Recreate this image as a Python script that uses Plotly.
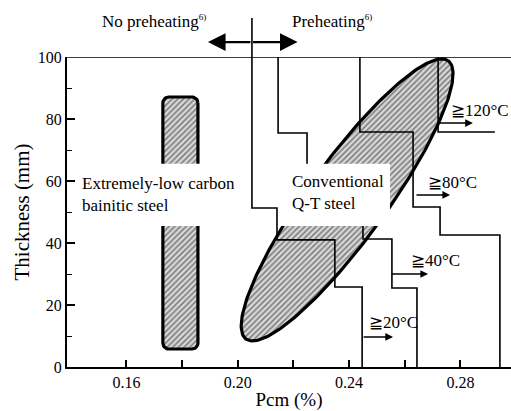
import numpy as np
import plotly.graph_objects as go

# ---- data (Pcm %, thickness mm) ----
pcm_20 = [0.2051, 0.2051, 0.2141, 0.2141, 0.2349, 0.2349, 0.2447, 0.2447]
thk_20 = [100, 51.3, 51.3, 41.0, 41.0, 25.8, 25.8, 0]
pcm_40 = [0.2145, 0.2145, 0.2249, 0.2249, 0.2450, 0.2450, 0.2554, 0.2554, 0.2644, 0.2644]
thk_40 = [100, 75.5, 75.5, 55.0, 55.0, 41.3, 41.3, 25.5, 25.5, 0]
pcm_80 = [0.2439, 0.2439, 0.2630, 0.2630, 0.2727, 0.2727, 0.2942, 0.2942]
thk_80 = [100, 75.8, 75.8, 51.6, 51.6, 42.6, 42.6, 0]
pcm_120 = [0.2720, 0.2720, 0.2924]
thk_120 = [100, 75.8, 75.8]

# preheat arrows: (start pcm, end pcm, thickness)
arrow_start = [0.2447, 0.2547, 0.2637, 0.2720]
arrow_end = [0.2558, 0.2684, 0.2763, 0.2845]
arrow_thk = [9.7, 30.0, 55.5, 78.7]
temp_labels = ["≧20°C", "≧40°C", "≧80°C", "≧120°C"]
temp_label_pcm = [0.2466, 0.2617, 0.2678, 0.2760]
temp_label_thk = [14.5, 34.5, 59.4, 82.9]

# bainitic steel range (rounded bar)
bain_pcm = [0.1731, 0.1857]
bain_thk = [5.8, 87.1]

# Q-T steel ellipse: centre, semi-axes (px-equivalent), tilt
qt_center = [0.2393, 53.9]
qt_semi = [172, 39]
qt_tilt_deg = 54

# label gaps (white bands)
gap_bain_pcm = [0.1720, 0.1868]
gap_qt_pcm = [0.2152, 0.2547]
gap_thk = [45.5, 65.6]

x_ticks = [0.16, 0.20, 0.24, 0.28]
x_ticktext = ["0.16", "0.20", "0.24", "0.28"]
x_minor = [0.18, 0.22, 0.26]
y_ticks = [0, 20, 40, 60, 80, 100]
y_minor = [10, 30, 50, 70, 90]

PX_X = 2783.0  # px per Pcm unit (for shape geometry)
PX_Y = 3.1     # px per mm

FONT = "Liberation Serif"

fig = go.Figure()

hatch = dict(shape="/", size=4, solidity=0.42, fgcolor="#222222", bgcolor="#d9d9d9")

# ellipse
th = np.linspace(0, 2 * np.pi, 240)
phi = np.deg2rad(qt_tilt_deg)
u = qt_semi[0] * np.cos(th)
v = qt_semi[1] * np.sin(th)
ex = qt_center[0] + (u * np.cos(phi) - v * np.sin(phi)) / PX_X
ey = qt_center[1] + (u * np.sin(phi) + v * np.cos(phi)) / PX_Y
fig.add_trace(go.Scatter(x=ex, y=ey, mode="lines", fill="toself", fillpattern=hatch,
                         fillcolor="#d9d9d9", line=dict(color="black", width=3.2),
                         hoverinfo="skip", showlegend=False))

# rounded bar
r = 6.0
x0, x1 = bain_pcm
y0, y1 = bain_thk
rx, ry = r / PX_X, r / PX_Y
bx, by = [], []
corners = [(x1 - rx, y1 - ry, 0, 90), (x0 + rx, y1 - ry, 90, 180),
           (x0 + rx, y0 + ry, 180, 270), (x1 - rx, y0 + ry, 270, 360)]
for cx, cy, a0, a1 in corners:
    aa = np.deg2rad(np.linspace(a0, a1, 10))
    bx += list(cx + rx * np.cos(aa))
    by += list(cy + ry * np.sin(aa))
bx.append(bx[0]); by.append(by[0])
fig.add_trace(go.Scatter(x=bx, y=by, mode="lines", fill="toself", fillpattern=hatch,
                         fillcolor="#d9d9d9", line=dict(color="black", width=3.2),
                         hoverinfo="skip", showlegend=False))

# boundary lines
for px_, py_ in [(pcm_20, thk_20), (pcm_40, thk_40), (pcm_80, thk_80), (pcm_120, thk_120)]:
    fig.add_trace(go.Scatter(x=px_, y=py_, mode="lines", line=dict(color="black", width=1.6),
                             hoverinfo="skip", showlegend=False))

shapes = []
# white gaps
for gx in (gap_bain_pcm, gap_qt_pcm):
    shapes.append(dict(type="rect", xref="x", yref="y", x0=gx[0], x1=gx[1],
                       y0=gap_thk[0], y1=gap_thk[1], fillcolor="white",
                       line=dict(width=0), layer="above"))
# top frame line
shapes.append(dict(type="line", xref="paper", yref="y", x0=0, x1=1, y0=100, y1=100,
                   line=dict(color="black", width=1.5)))
# divider above plot
shapes.append(dict(type="line", xref="x", yref="paper", x0=pcm_20[0], x1=pcm_20[0],
                   y0=1.0, y1=1.126, line=dict(color="black", width=1.6)))

annotations = []
for xs, xe, yy in zip(arrow_start, arrow_end, arrow_thk):
    annotations.append(dict(x=xe, y=yy, ax=xs, ay=yy, xref="x", yref="y", axref="x", ayref="y",
                            showarrow=True, arrowhead=2, arrowsize=1.1, arrowwidth=1.4,
                            arrowcolor="black", text=""))
for t, xx, yy in zip(temp_labels, temp_label_pcm, temp_label_thk):
    annotations.append(dict(x=xx, y=yy, xref="x", yref="y", text=t, showarrow=False,
                            xanchor="left", yanchor="middle",
                            font=dict(family=FONT, size=17, color="black")))
annotations.append(dict(x=0.1433, y=55.8, xref="x", yref="y",
                        text="Extremely-low carbon<br>bainitic steel", showarrow=False,
                        xanchor="left", yanchor="middle", align="left",
                        font=dict(family=FONT, size=17, color="black")))
annotations.append(dict(x=0.2188, y=56.3, xref="x", yref="y",
                        text="Conventional<br>Q-T steel", showarrow=False,
                        xanchor="left", yanchor="middle", align="left",
                        font=dict(family=FONT, size=17, color="black")))
# preheating header
sup = "<sup><span style='font-size:9px'>6)</span></sup>"
annotations.append(dict(x=0.1505, y=1.115, xref="x", yref="paper",
                        text="No preheating" + sup, showarrow=False,
                        xanchor="left", yanchor="middle",
                        font=dict(family=FONT, size=17, color="black")))
annotations.append(dict(x=0.2188, y=1.115, xref="x", yref="paper",
                        text="Preheating" + sup, showarrow=False,
                        xanchor="left", yanchor="middle",
                        font=dict(family=FONT, size=17, color="black")))
for head, off in [(0.1893, 44), (0.2215, -46)]:
    annotations.append(dict(x=head, y=1.048, xref="x", yref="paper", ax=off, ay=0,
                            showarrow=True, arrowhead=2, arrowsize=1.6, arrowwidth=2.2,
                            arrowcolor="black", text=""))

fig.update_layout(
    width=511, height=411,
    margin=dict(l=67, r=0, t=57, b=44),
    paper_bgcolor="white", plot_bgcolor="white",
    shapes=shapes, annotations=annotations,
    font=dict(family=FONT, size=16, color="black"),
    showlegend=False,
)
fig.update_xaxes(range=[0.13865, 0.29819], showgrid=False, zeroline=False,
                 showline=True, linecolor="black", linewidth=2.2,
                 ticks="inside", ticklen=7, tickwidth=1.5, tickcolor="black",
                 tickvals=x_ticks, ticktext=x_ticktext,
                 minor=dict(tickvals=x_minor, ticks="inside", ticklen=7,
                            tickwidth=1.5, tickcolor="black", showgrid=False),
                 tickfont=dict(family=FONT, size=16, color="black"),
                 title=dict(text="Pcm (%)", font=dict(family=FONT, size=19, color="black"), standoff=6))
fig.update_yaxes(range=[0, 100], showgrid=False, zeroline=False,
                 showline=True, linecolor="black", linewidth=2.2,
                 ticks="inside", ticklen=8, tickwidth=1.5, tickcolor="black",
                 tickvals=y_ticks,
                 minor=dict(tickvals=y_minor, ticks="inside", ticklen=5,
                            tickwidth=1.2, tickcolor="black", showgrid=False),
                 tickfont=dict(family=FONT, size=16, color="black"),
                 title=dict(text="Thickness (mm)", font=dict(family=FONT, size=21, color="black"), standoff=2))

fig.write_html("out.html")
